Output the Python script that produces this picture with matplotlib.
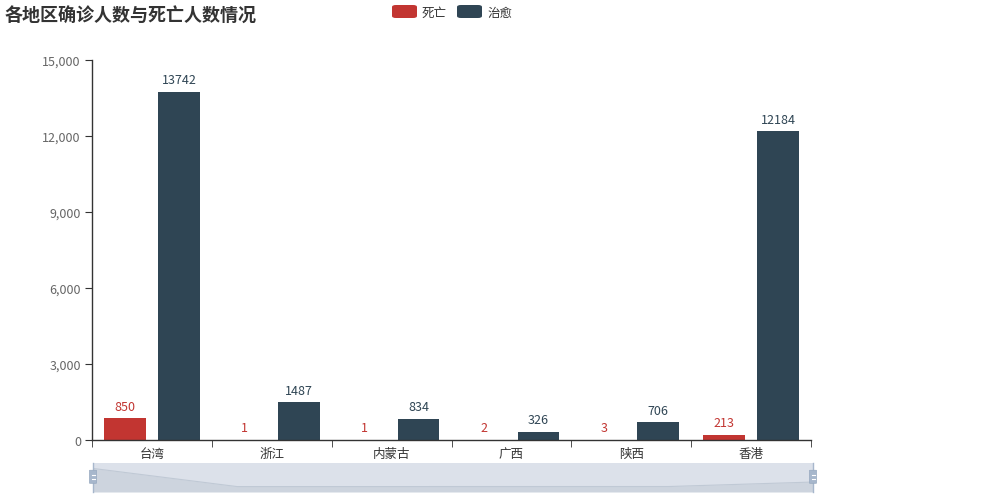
import numpy as np
import matplotlib.pyplot as plt
import matplotlib.patches as patches
from matplotlib.ticker import FuncFormatter, MultipleLocator

plt.rcParams['font.family'] = ['Noto Sans CJK SC', 'DejaVu Sans']

# ── DATA ───────────────────────────────────────────────────
regions = ['台湾', '浙江', '内蒙古', '广西', '陕西', '香港']
deaths  = [850, 1, 1, 2, 3, 213]
cured   = [13742, 1487, 834, 326, 706, 12184]

RED  = '#c23531'
DARK = '#2f4554'
AXIS = '#333333'
TICK = '#666666'

W, H = 982, 502
fig = plt.figure(figsize=(W / 100, H / 100), dpi=100)
fig.patch.set_facecolor('white')

# main axes: pixel box 92..811 x 61..441
ax = fig.add_axes([92 / W, 1 - 441 / H, 719 / W, 380 / H])
x = np.arange(len(regions))
bw = 0.3475
off = 0.65 * bw
b1 = ax.bar(x - off, deaths, bw, color=RED, zorder=2)
b2 = ax.bar(x + off, cured, bw, color=DARK, zorder=2)

for bars, vals, col in [(b1, deaths, RED), (b2, cured, DARK)]:
    for r, v in zip(bars, vals):
        ax.annotate(str(v), (r.get_x() + r.get_width() / 2, v),
                    xytext=(0, 4), textcoords='offset points',
                    ha='center', va='bottom', fontsize=9, color=col)

ax.set_xlim(-0.5, len(regions) - 0.5)
ax.set_ylim(0, 15000)
ax.yaxis.set_major_locator(MultipleLocator(3000))
ax.yaxis.set_major_formatter(FuncFormatter(lambda v, p: f'{int(v):,}'))
ax.set_xticks(x)
ax.set_xticklabels(regions)
ax.set_xticks(np.arange(-0.5, len(regions)), minor=True)
ax.tick_params(axis='x', which='major', length=0, pad=5, labelsize=9, labelcolor=AXIS)
ax.tick_params(axis='x', which='minor', length=5, direction='out', color=AXIS)
ax.tick_params(axis='y', length=5, direction='out', color=AXIS, labelsize=9,
               labelcolor=TICK, pad=3)
for s in ['top', 'right']:
    ax.spines[s].set_visible(False)
for s in ['left', 'bottom']:
    ax.spines[s].set_color(AXIS)
    ax.spines[s].set_linewidth(1)

# title & legend
fig.text(5 / W, 1 - 16 / H, '各地区确诊人数与死亡人数情况', fontsize=13, fontweight='bold',
         color='#333333', va='center', ha='left')
for lx, lab, col in [(392, '死亡', RED), (457, '治愈', DARK)]:
    fig.patches.append(patches.FancyBboxPatch(
        (lx / W, 1 - 19 / H), 25 / W, 13 / H,
        boxstyle='round,pad=0,rounding_size=0.004', transform=fig.transFigure,
        facecolor=col, edgecolor='none'))
    fig.text((lx + 30) / W, 1 - 13 / H, lab, fontsize=9, color='#333333',
             va='center', ha='left')

# dataZoom slider (shadow of first series)
sz = fig.add_axes([93 / W, 1 - 493 / H, 720 / W, 29 / H])
sz.set_facecolor('#dce1ea')
lo, hi = min(deaths), max(deaths)
pad = (hi - lo) * 0.3
sz.fill_between(x, deaths, lo - pad, color='#cdd4de', lw=0)
sz.plot(x, deaths, color='#c0c9d5', lw=0.8)
sz.set_xlim(0, len(regions) - 1)
sz.set_ylim(lo - pad, hi + pad)
sz.set_xticks([]); sz.set_yticks([])
for s in ['top', 'bottom']:
    sz.spines[s].set_visible(False)
for s in ['left', 'right']:
    sz.spines[s].set_color('#a7b7cc'); sz.spines[s].set_linewidth(1)
for hx in [0, 1]:
    sz.add_patch(patches.FancyBboxPatch(
        (hx - 3.5 / 720, 0.3), 7 / 720, 0.45,
        boxstyle='round,pad=0,rounding_size=0.003', transform=sz.transAxes,
        facecolor='#a7b7cc', edgecolor='#96a8bf', lw=0.5, clip_on=False, zorder=5))
    for dy in [0.45, 0.6]:
        sz.plot([hx - 1.5 / 720, hx + 1.5 / 720], [dy, dy], color='white', lw=0.8,
                transform=sz.transAxes, clip_on=False, zorder=6)

plt.savefig('out.png', dpi=100, facecolor='white')
